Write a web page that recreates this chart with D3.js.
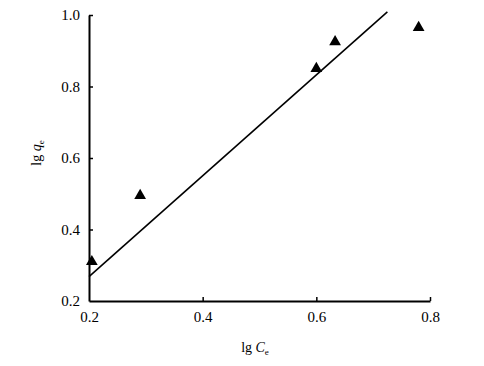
<!DOCTYPE html>
<html><head><meta charset="utf-8">
<script src="https://cdn.jsdelivr.net/npm/d3@7"></script>
<style>body{margin:0;background:#fff}svg{display:block}</style>
</head><body>
<script>
const xValues = [0.205, 0.29, 0.60, 0.633, 0.78];
const yValues = [0.31, 0.495, 0.85, 0.925, 0.965];
const fitX = [0.2, 0.725];
const fitY = [0.268, 1.009];
const xTicks = [0.2, 0.4, 0.6, 0.8];
const yTicks = [0.2, 0.4, 0.6, 0.8, 1.0];

const W = 484, H = 366;
const svg = d3.select("body").append("svg").attr("width", W).attr("height", H);
const x = d3.scaleLinear().domain([0.2, 0.8]).range([89, 430]);
const y = d3.scaleLinear().domain([0.2, 1.0]).range([301, 15]);
const font = "'Liberation Serif', 'Times New Roman', serif";

const xa = svg.append("g").attr("transform", `translate(0,${y(0.2)})`)
  .call(d3.axisBottom(x).tickValues(xTicks).tickFormat(d3.format(".1f")).tickSizeInner(-4).tickSizeOuter(0).tickPadding(10));
const ya = svg.append("g").attr("transform", `translate(${x(0.2)},0)`)
  .call(d3.axisLeft(y).tickValues(yTicks).tickFormat(d3.format(".1f")).tickSizeInner(-4).tickSizeOuter(0).tickPadding(9));
[xa, ya].forEach(a => {
  a.select(".domain").attr("stroke", "#000").attr("stroke-width", 2);
  a.selectAll(".tick line").attr("stroke", "#000").attr("stroke-width", 1.5);
  a.selectAll(".tick text").attr("font-family", font).attr("font-size", 15).attr("fill", "#000");
});
ya.selectAll(".tick").filter(d => d === 0.2).select("line").remove();
xa.selectAll(".tick").filter(d => d === 0.2).select("line").remove();

svg.append("line")
  .attr("x1", x(fitX[0])).attr("y1", y(fitY[0]))
  .attr("x2", x(fitX[1])).attr("y2", y(fitY[1]))
  .attr("stroke", "#000").attr("stroke-width", 1.6);

const tri = d3.symbol().type(d3.symbolTriangle).size(60);
svg.selectAll("path.pt").data(xValues.map((v, i) => [v, yValues[i]])).join("path")
  .attr("class", "pt").attr("d", tri)
  .attr("transform", d => `translate(${x(d[0])},${y(d[1])})`)
  .attr("fill", "#000");

const xl = svg.append("text").attr("x", 255).attr("y", 352).attr("text-anchor", "middle")
  .attr("font-family", font).attr("font-size", 14);
xl.append("tspan").text("lg ");
xl.append("tspan").attr("font-style", "italic").text("C");
xl.append("tspan").attr("font-size", 9).attr("dy", 3).text("e");

const yl = svg.append("text").attr("transform", "translate(41,153) rotate(-90)").attr("text-anchor", "middle")
  .attr("font-family", font).attr("font-size", 14);
yl.append("tspan").text("lg ");
yl.append("tspan").attr("font-style", "italic").text("q");
yl.append("tspan").attr("font-size", 9).attr("dy", 3).text("e");
</script>
</body></html>
